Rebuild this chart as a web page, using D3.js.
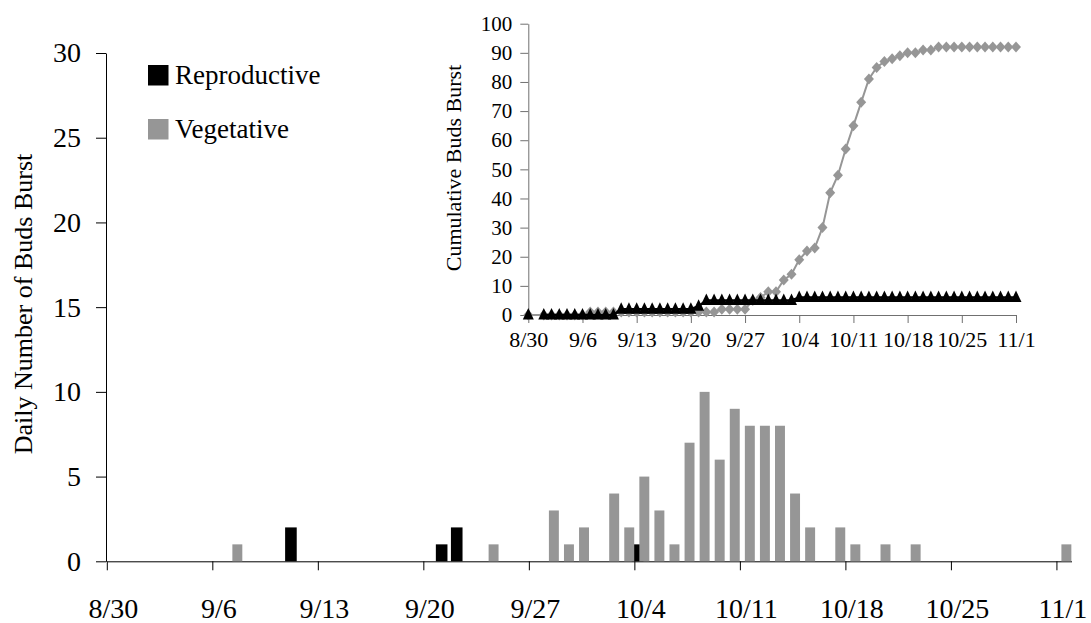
<!DOCTYPE html>
<html>
<head>
<meta charset="utf-8">
<script src="https://cdn.jsdelivr.net/npm/d3@7"></script>
<style>
  html, body { margin: 0; padding: 0; background: #fff; }
  svg { display: block; font-family: "Liberation Serif", "Times New Roman", serif; }
</style>
</head>
<body>
<div id="chart"></div>
<script>
// ---- data ----

// daily bud burst, main bar chart
const repDates  = ["9/11", "9/21", "9/22", "10/4"];
const repCounts = [2, 1, 2, 1];

const vegDates  = ["9/7", "9/24", "9/28", "9/29", "9/30", "10/2", "10/3", "10/4", "10/5", "10/6",
                   "10/7", "10/8", "10/9", "10/10", "10/11", "10/12", "10/13", "10/14", "10/15",
                   "10/17", "10/18", "10/20", "10/22", "11/1"];
const vegCounts = [1, 1, 3, 1, 2, 4, 2, 5, 3, 1,
                   7, 10, 6, 9, 8, 8, 8, 4, 2,
                   2, 1, 1, 1, 1];

const mainYTicks = [0, 5, 10, 15, 20, 25, 30];
const weekTicks  = ["8/30", "9/6", "9/13", "9/20", "9/27", "10/4", "10/11", "10/18", "10/25", "11/1"];

// inset: cumulative counts, one value per day from 8/30 to 11/1 (null = no point)
const insetStart = "8/30";
const repCum = [0, null,
  0, 0, 0, 0, 0, 0, 0, 0, 0, 0,
  2, 2, 2, 2, 2, 2, 2, 2, 2, 2,
  3,
  5, 5, 5, 5, 5, 5, 5, 5, 5, 5, 5, 5,
  6, 6, 6, 6, 6, 6, 6, 6, 6, 6, 6, 6, 6, 6, 6, 6, 6, 6, 6, 6, 6, 6, 6, 6, 6, 6, 6, 6, 6];
const vegCum = [0, null,
  0, 0, 0, 0, 0, 0,
  1, 1, 1, 1, 1, 1, 1, 1, 1, 1, 1, 1, 1, 1, 1, 1, 1,
  2, 2, 2, 2,
  5, 6, 8, 8, 12, 14, 19, 22, 23, 30, 42, 48, 57, 65, 73, 81, 85, 87, 88, 89, 90, 90, 91, 91, 92,
  92, 92, 92, 92, 92, 92, 92, 92, 92, 92];
const insetYTicks = [0, 10, 20, 30, 40, 50, 60, 70, 80, 90, 100];

const seriesNames = ["Reproductive", "Vegetative"];
const seriesColors = ["#000000", "#969696"];

// ---- layout ----
const W = 1091, H = 623;
const FONT = "'Liberation Serif', 'Times New Roman', serif";

const parse = s => d3.utcParse("%Y/%m/%d")("2009/" + s);
const fmt = d3.utcFormat("%-m/%-d");

const svg = d3.select("#chart").append("svg")
  .attr("width", W)
  .attr("height", H);

// main chart scales
const x = d3.scaleUtc()
  .domain([parse("8/30"), parse("11/2")])
  .range([106.8, 1071.5]);

const y = d3.scaleLinear()
  .domain([0, 30])
  .range([561.3, 53]);

const dayW = x(parse("8/31")) - x(parse("8/30"));

// y axis
const yAx = svg.append("g")
  .attr("transform", `translate(106,0)`)
  .call(d3.axisLeft(y).tickValues(mainYTicks).tickSize(10).tickSizeOuter(0).tickPadding(15));
yAx.selectAll("text").style("font-size", "28px").style("font-family", FONT).attr("fill", "#000");
yAx.selectAll("line, path").attr("stroke", "#000");

// x axis
const xAx = svg.append("g")
  .attr("transform", `translate(0,${y(0)})`)
  .call(d3.axisBottom(x).tickValues(weekTicks.map(parse)).tickFormat(fmt).tickSize(9).tickSizeOuter(0));
xAx.selectAll("text")
  .style("font-size", "28px").style("font-family", FONT).attr("fill", "#000")
  .attr("y", 57).attr("dy", 0).attr("dx", 6);
xAx.selectAll("line, path").attr("stroke", "#000");

// bars: reproductive first, vegetative drawn on top, offset to the right
const repRows = repDates.map((d, i) => ({ date: parse(d), v: repCounts[i] }));
const vegRows = vegDates.map((d, i) => ({ date: parse(d), v: vegCounts[i] }));

svg.append("g").selectAll("rect")
  .data(repRows)
  .join("rect")
  .attr("x", d => x(d.date) - dayW * 0.17)
  .attr("width", dayW * 0.77)
  .attr("y", d => y(d.v))
  .attr("height", d => y(0) - y(d.v))
  .attr("fill", seriesColors[0]);

svg.append("g").selectAll("rect")
  .data(vegRows)
  .join("rect")
  .attr("x", d => x(d.date) + dayW * 0.33)
  .attr("width", dayW * 0.66)
  .attr("y", d => y(d.v))
  .attr("height", d => y(0) - y(d.v))
  .attr("fill", seriesColors[1]);

// y title
svg.append("text")
  .attr("transform", "translate(32,304) rotate(-90)")
  .attr("text-anchor", "middle")
  .style("font-size", "26px")
  .text("Daily Number of Buds Burst");

// legend
const leg = svg.append("g");
seriesNames.forEach((name, i) => {
  const g = leg.append("g").attr("transform", `translate(148,${65 + i * 54})`);
  g.append("rect").attr("width", 20.5).attr("height", 20.5).attr("fill", seriesColors[i]);
  g.append("text").attr("x", 27).attr("y", 18.5).style("font-size", "27px").text(name);
});

// ---- inset: cumulative buds burst ----
const d0 = parse(insetStart);
const insetRows = vegCum.map((v, i) => ({
  date: d3.utcDay.offset(d0, i),
  veg: v,
  rep: repCum[i]
}));

const xi = d3.scaleUtc()
  .domain([d0, d3.utcDay.offset(d0, insetRows.length - 1)])
  .range([528.3, 1016]);

const yi = d3.scaleLinear()
  .domain([0, 100])
  .range([315, 23.7]);

const yiAx = svg.append("g")
  .attr("transform", `translate(${xi.range()[0]},0)`)
  .call(d3.axisLeft(yi).tickValues(insetYTicks).tickSize(8).tickSizeOuter(0).tickPadding(8));
yiAx.selectAll("text").style("font-size", "21px").style("font-family", FONT).attr("fill", "#000");
yiAx.selectAll("line, path").attr("stroke", "#707070");

const xiAx = svg.append("g")
  .attr("transform", `translate(0,${yi(0)})`)
  .call(d3.axisBottom(xi).tickValues(weekTicks.map(parse)).tickFormat(fmt).tickSize(8).tickSizeOuter(0));
xiAx.selectAll("text")
  .style("font-size", "22px").style("font-family", FONT).attr("fill", "#000")
  .attr("y", 32).attr("dy", 0);
xiAx.selectAll("line, path").attr("stroke", "#707070");

svg.append("text")
  .attr("transform", `translate(461,168) rotate(-90)`)
  .attr("text-anchor", "middle")
  .style("font-size", "22px")
  .text("Cumulative Buds Burst");

// vegetative: grey line + diamonds (drawn first, sits under the black series)
const vegPts = insetRows.filter(d => d.veg != null);
svg.append("path")
  .datum(vegPts)
  .attr("fill", "none")
  .attr("stroke", seriesColors[1])
  .attr("stroke-width", 2)
  .attr("d", d3.line().x(d => xi(d.date)).y(d => yi(d.veg)));

svg.append("g").selectAll("path")
  .data(vegPts)
  .join("path")
  .attr("transform", d => `translate(${xi(d.date)},${yi(d.veg)})`)
  .attr("d", "M0,-5.5L5,0L0,5.5L-5,0Z")
  .attr("fill", seriesColors[1]);

// reproductive: black line + triangles
const repPts = insetRows.filter(d => d.rep != null);
svg.append("path")
  .datum(insetRows)
  .attr("fill", "none")
  .attr("stroke", seriesColors[0])
  .attr("stroke-width", 2.5)
  .attr("d", d3.line().defined(d => d.rep != null).x(d => xi(d.date)).y(d => yi(d.rep)));

svg.append("g").selectAll("path")
  .data(repPts)
  .join("path")
  .attr("transform", d => `translate(${xi(d.date)},${yi(d.rep)})`)
  .attr("d", "M0,-7L5.5,4.5L-5.5,4.5Z")
  .attr("fill", seriesColors[0]);
</script>
</body>
</html>
